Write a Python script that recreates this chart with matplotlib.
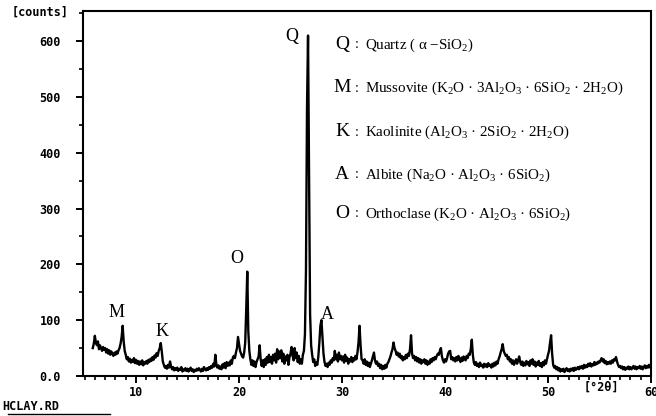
import numpy as np
import matplotlib
matplotlib.use("Agg")
import matplotlib.pyplot as plt

plt.rcParams['mathtext.fontset'] = 'custom'
plt.rcParams['mathtext.rm'] = 'Liberation Serif'
plt.rcParams['mathtext.it'] = 'Liberation Serif:italic'

# scan: 5.8 .. 59.9 deg 2theta, step 0.1
two_theta = np.round(np.arange(5.8, 59.95, 0.1), 1)
counts = [
    50, 58,
    72, 60, 55, 62, 48, 55, 50, 45, 52, 47,          # 6
    50, 42, 48, 40, 46, 38, 44, 40, 36, 42,          # 7
    38, 44, 40, 46, 50, 58, 70, 90, 62, 45,          # 8
    38, 30, 34, 26, 31, 24, 29, 25, 32, 23,          # 9
    29, 22, 27, 20, 26, 21, 28, 19, 25, 22,          # 10
    27, 22, 29, 25, 31, 27, 34, 29, 37, 33,          # 11
    41, 36, 45, 50, 59, 44, 26, 20, 15, 18,          # 12
    13, 20, 15, 26, 17, 12, 16, 10, 14, 11,          # 13
    15, 9, 13, 11, 16, 8, 12, 10, 14, 9,             # 14
    13, 8, 12, 15, 9, 12, 7, 11, 9, 13,              # 15
    10, 14, 11, 8, 13, 9, 16, 12, 10, 14,            # 16
    11, 16, 13, 18, 15, 22, 17, 38, 20, 15,          # 17
    19, 13, 17, 12, 21, 15, 23, 14, 25, 18,          # 18
    24, 19, 28, 22, 33, 36, 32, 42, 50, 70,          # 19
    58, 45, 40, 35, 33, 42, 60, 120, 187, 80,        # 20
    45, 30, 20, 28, 18, 26, 16, 25, 30, 35,          # 21
    55, 30, 18, 28, 16, 30, 20, 34, 24, 38,          # 22
    25, 34, 22, 38, 28, 40, 24, 48, 30, 44,          # 23
    32, 46, 26, 40, 22, 35, 28, 38, 20, 34,          # 24
    40, 52, 36, 28, 50, 32, 42, 25, 36, 22,          # 25
    30, 22, 38, 45, 75, 190, 480, 610, 360, 110,     # 26
    55, 38, 25, 30, 18, 24, 20, 35, 60, 90,          # 27
    100, 70, 40, 25, 18, 22, 16, 24, 20, 28,         # 28
    24, 32, 28, 45, 30, 38, 26, 42, 30, 36,          # 29
    28, 35, 24, 38, 27, 33, 22, 30, 26, 34,          # 30
    25, 32, 28, 36, 30, 42, 60, 90, 55, 30,          # 31
    28, 22, 30, 20, 26, 18, 24, 16, 22, 28,          # 32
    35, 42, 28, 22, 26, 18, 22, 14, 20, 12,          # 33
    18, 13, 20, 15, 22, 25, 30, 35, 42, 48,          # 34
    60, 50, 45, 38, 42, 35, 40, 32, 36, 28,          # 35
    34, 30, 38, 32, 40, 36, 48, 73, 40, 32,          # 36
    36, 28, 34, 26, 32, 24, 30, 22, 28, 25,          # 37
    30, 22, 28, 20, 26, 22, 30, 25, 32, 28,          # 38
    34, 30, 36, 40, 38, 45, 50, 35, 28, 24,          # 39
    30, 26, 32, 40, 44, 45, 30, 34, 28, 32,          # 40
    26, 34, 28, 36, 30, 25, 33, 27, 35, 30,          # 41
    28, 36, 32, 40, 38, 48, 65, 38, 24, 20,          # 42
    25, 18, 22, 16, 24, 18, 20, 15, 22, 17,          # 43
    21, 16, 23, 18, 20, 15, 22, 17, 24, 19,          # 44
    26, 22, 30, 35, 42, 48, 57, 45, 40, 36,          # 45
    38, 30, 34, 26, 30, 22, 28, 20, 25, 30,          # 46
    22, 28, 35, 25, 20, 26, 18, 24, 19, 27,          # 47
    21, 25, 18, 28, 22, 30, 20, 26, 17, 24,          # 48
    20, 27, 18, 23, 16, 25, 19, 28, 22, 30,          # 49
    38, 45, 60, 73, 40, 20, 15, 18, 12, 16,          # 50
    10, 14, 8, 12, 9, 13, 7, 11, 14, 9,              # 51
    12, 8, 13, 10, 14, 9, 15, 11, 13, 16,            # 52
    12, 17, 14, 18, 13, 20, 15, 19, 16, 22,          # 53
    18, 23, 17, 21, 19, 25, 20, 24, 22, 26,          # 54
    24, 28, 32, 26, 30, 23, 27, 21, 25, 22,          # 55
    26, 22, 28, 24, 30, 28, 34, 26, 20, 16,          # 56
    18, 14, 17, 12, 16, 11, 15, 13, 17, 12,          # 57
    16, 12, 15, 18, 13, 17, 12, 16, 14, 18,          # 58
    13, 17, 12, 16, 19, 14, 18, 15, 20, 16,          # 59
]

peak_labels = ['Q', 'M', 'K', 'O', 'A']
peak_pos = [(25.15, 609), (8.15, 113), (12.5, 79), (19.8, 210), (28.6, 111)]

phase_letters = ['Q', 'M', 'K', 'A', 'O']
phase_names = [
    r'Quartz ( α −SiO$_2$)',
    r'Mussovite (K$_2$O · 3Al$_2$O$_3$ · 6SiO$_2$ · 2H$_2$O)',
    r'Kaolinite (Al$_2$O$_3$ · 2SiO$_2$ · 2H$_2$O)',
    r'Albite (Na$_2$O · Al$_2$O$_3$ · 6SiO$_2$)',
    r'Orthoclase (K$_2$O · Al$_2$O$_3$ · 6SiO$_2$)',
]
legend_y = [45, 88, 132, 175, 214]

W, H = 656, 416
fig = plt.figure(figsize=(W / 100, H / 100), dpi=100)
ax = fig.add_axes([83 / W, 1 - 376 / H, (651 - 83) / W, (376 - 11) / H])

ax.plot(two_theta, counts, color='black', lw=1.7)
ax.set_xlim(4.85, 60)
ax.set_ylim(0, 654)

ax.set_xticks([10, 20, 30, 40, 50, 60])
ax.set_xticks(np.arange(5, 61, 1), minor=True)
ax.set_yticks([0, 100, 200, 300, 400, 500, 600])
ax.set_yticklabels(['0.0', '100', '200', '300', '400', '500', '600'])
ax.set_yticks(np.arange(0, 651, 50), minor=True)
ax.tick_params(which='major', direction='out', length=5, width=1.4, labelsize=8.5)
ax.tick_params(which='minor', direction='out', length=3, width=1.2)
ax.tick_params(axis='y', pad=11)
ax.tick_params(axis='x', pad=2)
for lab in ax.get_xticklabels() + ax.get_yticklabels():
    lab.set_family('DejaVu Sans Mono')
    lab.set_fontweight('bold')
for s in ax.spines.values():
    s.set_linewidth(1.5)

for lab, (x, y) in zip(peak_labels, peak_pos):
    ax.text(x, y, lab, family='Liberation Serif', fontsize=13,
            ha='center', va='center')

for letter, name, y in zip(phase_letters, phase_names, legend_y):
    fig.text(342 / W, 1 - y / H, letter, family='Liberation Serif',
             fontsize=14, ha='center', va='center')
    fig.text(357 / W, 1 - y / H, ':', family='Liberation Serif',
             fontsize=10, ha='center', va='center')
    fig.text(365 / W, 1 - y / H, name, family='Liberation Serif',
             fontsize=10.8, ha='left', va='center')

mono = dict(family='DejaVu Sans Mono', fontweight='bold', fontsize=8.5)
fig.text(40 / W, 1 - 12 / H, '[counts]', ha='center', va='center', **mono)
fig.text(601 / W, 1 - 387 / H, '[°2θ]', ha='center', va='center', **mono)
fig.text(2 / W, 1 - 406 / H, 'HCLAY.RD', ha='left', va='center', **mono)
fig.add_artist(plt.Line2D([8 / W, 110 / W], [1 - 414 / H, 1 - 414 / H],
                          color='black', lw=1.0))

fig.savefig('out.png', dpi=100)
